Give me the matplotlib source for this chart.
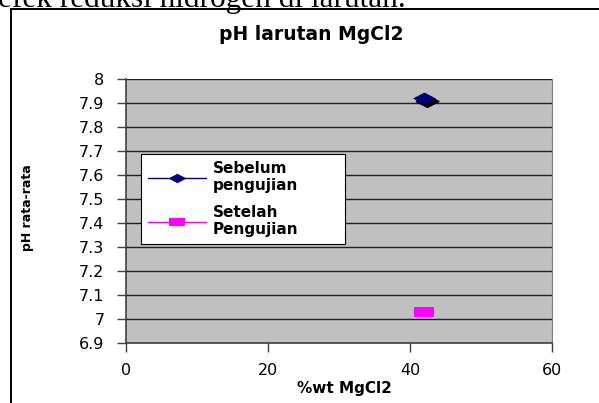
import matplotlib
matplotlib.use('Agg')
import matplotlib.pyplot as plt
import matplotlib.transforms as mtransforms
from matplotlib.lines import Line2D
from matplotlib.patches import Rectangle

# data
wtMgCl2 = [42]
phSebelum = [7.92]
phSetelah = [7.03]
seriesLabels = ['Sebelum\npengujian', 'Setelah\nPengujian']
yTicks = [6.9, 7.0, 7.1, 7.2, 7.3, 7.4, 7.5, 7.6, 7.7, 7.8, 7.9, 8.0]
xTicks = [0, 20, 40, 60]

navy = '#000080'
magenta = '#FF00FF'

# squashed excel-like markers
diamond = [(-1, 0), (0, 0.52), (1, 0), (0, -0.52), (-1, 0)]
square = [(-1, -0.52), (1, -0.52), (1, 0.52), (-1, 0.52), (-1, -0.52)]

plt.rcParams['font.family'] = 'DejaVu Sans'

fig = plt.figure(figsize=(5.99, 4.03), dpi=100)
fig.patch.set_facecolor('white')

# cut off line of document text above the chart
fig.text(-0.004, 1 - 7 / 403, 'efek reduksi hidrogen di larutan.', family='Liberation Serif',
	fontsize=22.5, va='baseline', ha='left')

# chart frame
fig.add_artist(Rectangle((11 / 599, -0.1), 1.2, 1.1 - 9 / 403, transform=fig.transFigure,
	fill=False, edgecolor='black', linewidth=1.4))

ax = fig.add_axes([126 / 599, 60 / 403, 426 / 599, 264 / 403])
ax.set_facecolor('#C0C0C0')

shadow = mtransforms.offset_copy(ax.transData, fig=fig, x=2.5, y=-2.5, units='dots')
ax.plot(wtMgCl2, phSebelum, linestyle='none', marker=diamond, markersize=16.5,
	color='black', transform=shadow, zorder=3)
ax.plot(wtMgCl2, phSebelum, linestyle='none', marker=diamond, markersize=16.5,
	color=navy, markeredgewidth=0, zorder=4)
ax.plot(wtMgCl2, phSetelah, linestyle='none', marker=square, markersize=15,
	color=magenta, markeredgewidth=0, zorder=4)

ax.set_xlim(0, 60)
ax.set_ylim(6.9, 8.0)
ax.set_xticks(xTicks)
ax.set_yticks(yTicks)
ax.set_yticklabels(['%g' % v for v in yTicks])
ax.tick_params(axis='both', direction='out', length=6.5, width=1, color='#404040', labelsize=11.5)
ax.tick_params(axis='y', pad=9)
ax.tick_params(axis='x', pad=8)
ax.grid(axis='y', color='#202020', linewidth=1)
ax.set_axisbelow(True)

for side in ['left', 'bottom']:
	ax.spines[side].set_color('#404040')
	ax.spines[side].set_linewidth(1.2)
ax.spines['top'].set_visible(False)
ax.spines['right'].set_color('#808080')

fig.text(311 / 599, 1 - 34 / 403, 'pH larutan MgCl2', ha='center', va='center',
	fontsize=13.5, fontweight='bold')
fig.text(344 / 599, 1 - 388 / 403, '%wt MgCl2', ha='center', va='center',
	fontsize=11, fontweight='bold')
fig.text(28 / 599, 1 - 208 / 403, 'pH rata-rata', ha='center', va='center',
	rotation=90, fontsize=9, fontweight='bold')

handles = [
	Line2D([], [], color=navy, linewidth=1, marker=diamond, markersize=13, markeredgewidth=0),
	Line2D([], [], color=magenta, linewidth=1, marker=square, markersize=11, markeredgewidth=0),
]
leg = ax.legend(handles, seriesLabels, loc='upper left', mode='expand',
	bbox_to_anchor=(0.035, 0.379, 0.479, 0.337),
	borderaxespad=0, fancybox=False, framealpha=1, edgecolor='black', handlelength=3.8,
	handletextpad=0.45, labelspacing=0.75, borderpad=0.45,
	prop={'size': 11, 'weight': 'bold'})
leg.get_frame().set_linewidth(0.8)

fig.savefig('out.png', dpi=100)
